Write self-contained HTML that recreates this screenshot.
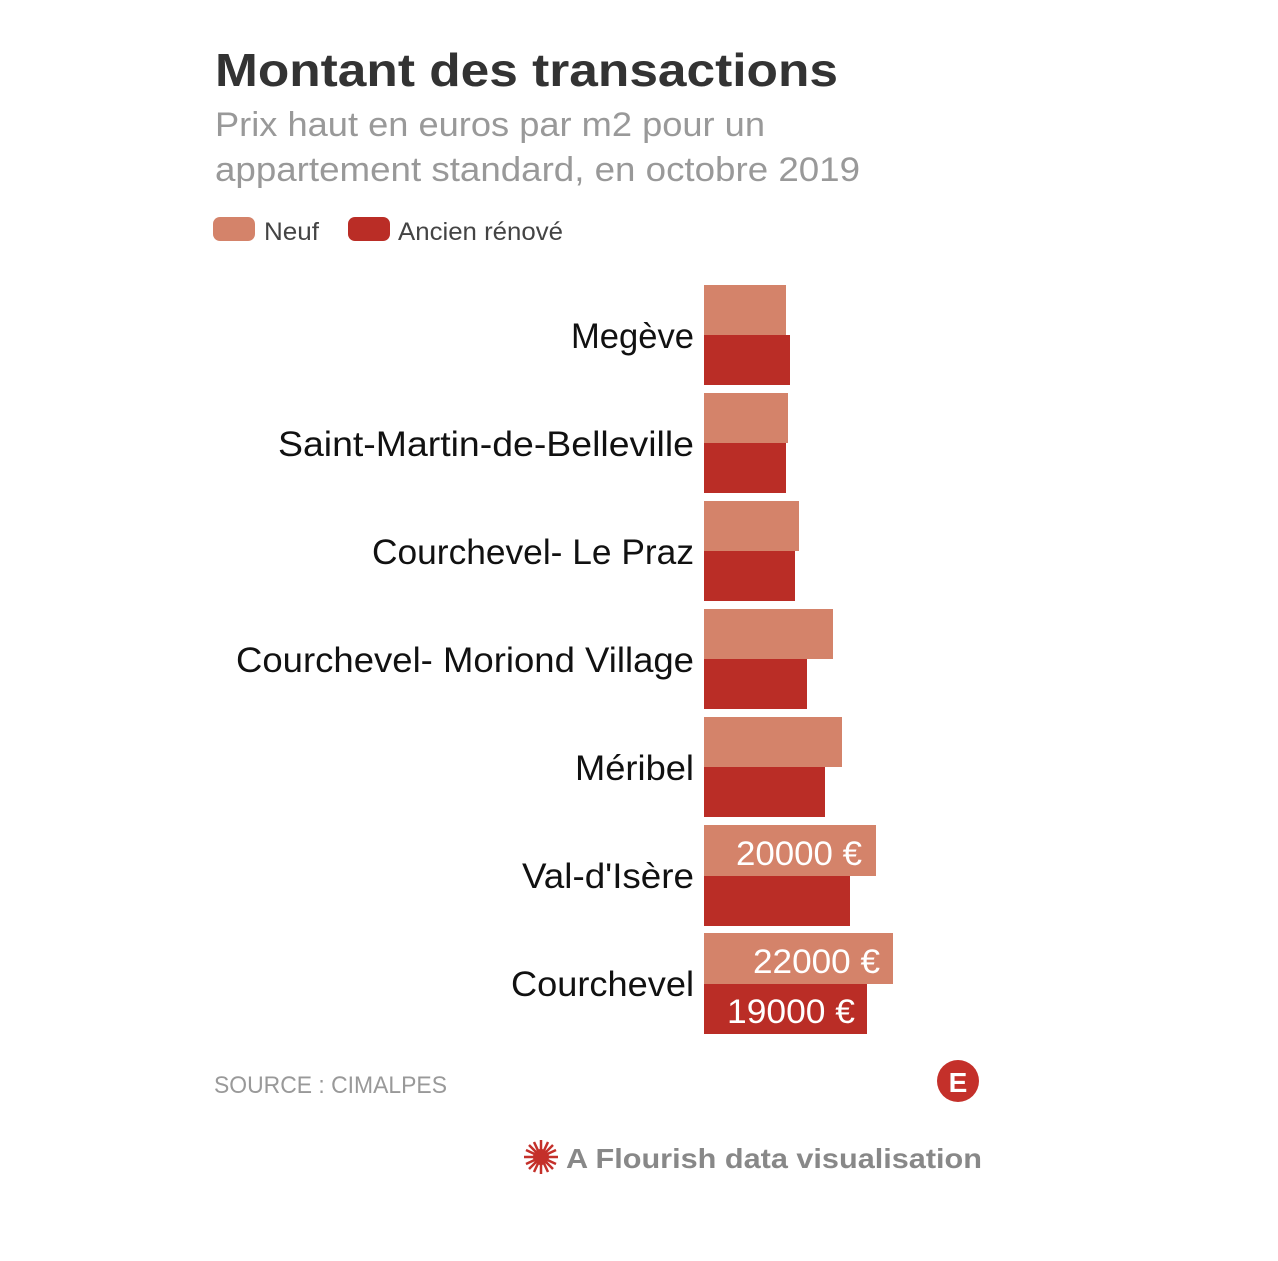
<!DOCTYPE html>
<html><head><meta charset="utf-8"><style>
html,body{margin:0;padding:0;background:#fff;width:1278px;height:1261px;overflow:hidden}
svg{display:block}
text{font-family:"Liberation Sans",sans-serif}
</style></head><body>
<svg width="1278" height="1261" viewBox="0 0 1278 1261" xmlns="http://www.w3.org/2000/svg">
<text x="215" y="86" font-size="46" font-weight="bold" fill="#333" textLength="623" lengthAdjust="spacingAndGlyphs">Montant des transactions</text>
<text x="215" y="136" font-size="34" fill="#999" textLength="550" lengthAdjust="spacingAndGlyphs">Prix haut en euros par m2 pour un</text>
<text x="215" y="181" font-size="34" fill="#999" textLength="645" lengthAdjust="spacingAndGlyphs">appartement standard, en octobre 2019</text>
<rect x="213" y="217" width="42" height="24" rx="7" fill="#d4836a"/>
<text x="264" y="240" font-size="25" fill="#444" textLength="55" lengthAdjust="spacingAndGlyphs">Neuf</text>
<rect x="348" y="217" width="42" height="24" rx="7" fill="#ba2d26"/>
<text x="398" y="240" font-size="25" fill="#444" textLength="165" lengthAdjust="spacingAndGlyphs">Ancien rénové</text>
<g font-size="35" fill="#111" lengthAdjust="spacingAndGlyphs">
<text x="571" y="348" textLength="123" lengthAdjust="spacingAndGlyphs">Megève</text>
<text x="278" y="456" textLength="416" lengthAdjust="spacingAndGlyphs">Saint-Martin-de-Belleville</text>
<text x="372" y="564" textLength="322" lengthAdjust="spacingAndGlyphs">Courchevel- Le Praz</text>
<text x="236" y="672" textLength="458" lengthAdjust="spacingAndGlyphs">Courchevel- Moriond Village</text>
<text x="575" y="780" textLength="119" lengthAdjust="spacingAndGlyphs">Méribel</text>
<text x="522" y="888" textLength="172" lengthAdjust="spacingAndGlyphs">Val-d'Isère</text>
<text x="511" y="996" textLength="183" lengthAdjust="spacingAndGlyphs">Courchevel</text>
</g>
<g fill="#d4836a">
<rect x="704" y="285" width="82" height="50"/>
<rect x="704" y="393" width="84" height="50"/>
<rect x="704" y="501" width="95" height="50"/>
<rect x="704" y="609" width="129" height="50"/>
<rect x="704" y="717" width="138" height="50"/>
<rect x="704" y="825" width="172" height="51"/>
<rect x="704" y="933" width="189" height="51"/>
</g>
<g fill="#ba2d26">
<rect x="704" y="335" width="86" height="50"/>
<rect x="704" y="443" width="82" height="50"/>
<rect x="704" y="551" width="91" height="50"/>
<rect x="704" y="659" width="103" height="50"/>
<rect x="704" y="767" width="121" height="50"/>
<rect x="704" y="876" width="146" height="50"/>
<rect x="704" y="984" width="163" height="50"/>
</g>
<g font-size="34" fill="#fff">
<text x="736" y="865" textLength="126" lengthAdjust="spacingAndGlyphs">20000 €</text>
<text x="753" y="973" textLength="127" lengthAdjust="spacingAndGlyphs">22000 €</text>
<text x="727" y="1023" textLength="128" lengthAdjust="spacingAndGlyphs">19000 €</text>
</g>
<text x="214" y="1093" font-size="24" fill="#999" textLength="233" lengthAdjust="spacingAndGlyphs">SOURCE : CIMALPES</text>
<circle cx="958" cy="1081" r="21" fill="#c4302a"/>
<text x="958" y="1092" font-size="28" font-weight="bold" fill="#fff" text-anchor="middle" font-family="Liberation Serif">E</text>
<g stroke="#c4302a" stroke-width="2.5">
<line x1="524" y1="1157" x2="558" y2="1157"/>
<line x1="541" y1="1140" x2="541" y2="1174"/>
<line x1="529" y1="1145" x2="553" y2="1169"/>
<line x1="553" y1="1145" x2="529" y2="1169"/>
<line x1="526" y1="1150" x2="556" y2="1164"/>
<line x1="526" y1="1164" x2="556" y2="1150"/>
<line x1="534" y1="1142" x2="548" y2="1172"/>
<line x1="548" y1="1142" x2="534" y2="1172"/>
</g>
<circle cx="541" cy="1157" r="8" fill="#c4302a"/>
<text x="566" y="1168" font-size="28" font-weight="bold" fill="#888" textLength="416" lengthAdjust="spacingAndGlyphs">A Flourish data visualisation</text>
</svg>
</body></html>
